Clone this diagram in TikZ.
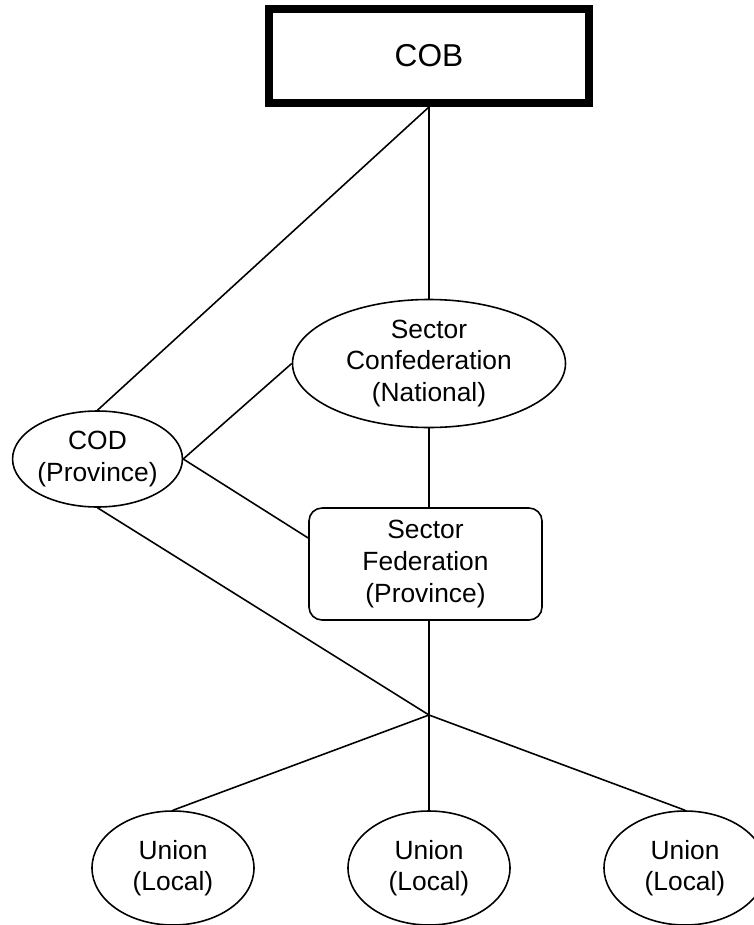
\documentclass[tikz,border=0pt]{standalone}
\usepackage{fontspec}
\setmainfont{Liberation Sans}
\usepackage{tikz}
\usetikzlibrary{shapes.geometric}

\begin{document}
\begin{tikzpicture}[
    line width=0.9pt,
    every node/.style={font=\fontsize{15}{18}\selectfont, align=center, inner sep=0pt},
    oval/.style={draw, ellipse},
    box/.style={draw, rectangle, rounded corners=0.26cm, minimum width=4.66cm, minimum height=2.24cm},
    union/.style={oval, minimum width=3.24cm, minimum height=2.28cm}
]
    \useasboundingbox (0,0) rectangle (15.08,-18.5);
    % Niveis
    \node[draw, line width=4.5pt, minimum width=6.4cm, minimum height=1.88cm, font=\fontsize{18}{22}\selectfont] (cob) at (8.58,-1.12) {COB};
    \node[oval, minimum width=5.46cm, minimum height=2.56cm] (conf) at (8.58,-7.27) {Sector\\Confederation\\(National)};
    \node[oval, minimum width=3.36cm, minimum height=1.92cm] (cod) at (1.95,-9.18) {COD\\(Province)};
    \node[box] (fed) at (8.51,-11.28) {Sector\\Federation\\(Province)};
    \coordinate (hub) at (8.58,-14.3);
    \node[union] (u1) at (3.46,-17.36) {Union\\(Local)};
    \node[union] (u2) at (8.58,-17.36) {Union\\(Local)};
    \node[union] (u3) at (13.70,-17.36) {Union\\(Local)};
    % Ligacoes
    \draw (cob.south) -- (conf.north);
    \draw (cob.south) -- (cod.north);
    \draw (cod.east) -- (conf.west);
    \draw (cod.east) -- ([yshift=0.52cm]fed.west);
    \draw (conf.south) -- (conf.south |- fed.north);
    \draw (hub |- fed.south) -- (hub);
    \draw (cod.south) -- (hub);
    \foreach \u in {u1,u2,u3}
        \draw (hub) -- (\u.north);
\end{tikzpicture}
\end{document}
